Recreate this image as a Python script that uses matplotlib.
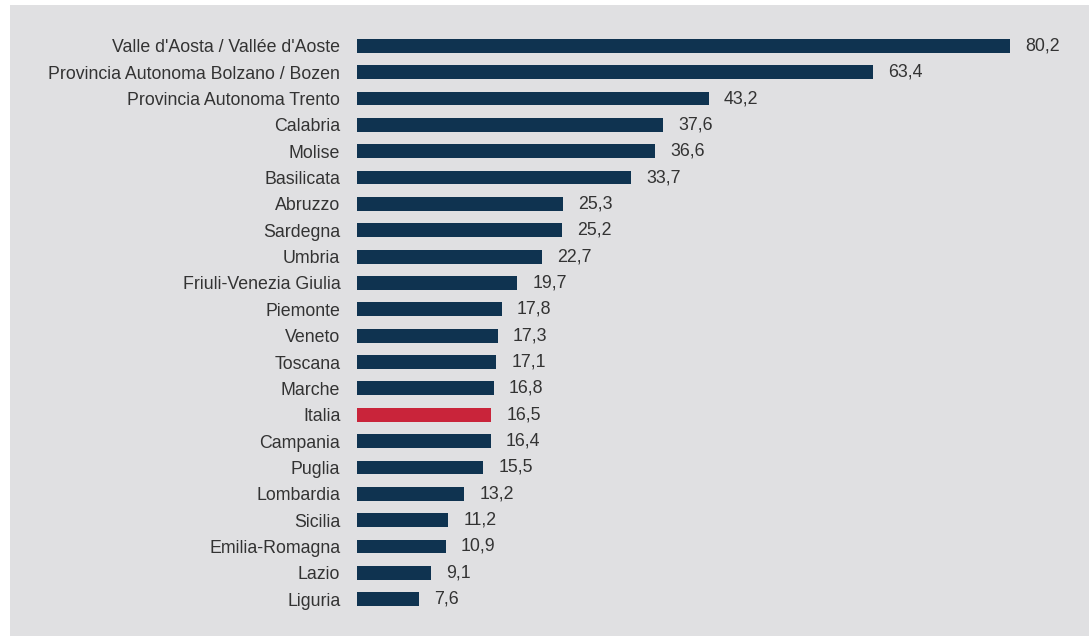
import matplotlib
matplotlib.use("Agg")
import matplotlib.pyplot as plt

regions = ["Valle d'Aosta / Vallée d'Aoste", "Provincia Autonoma Bolzano / Bozen",
           "Provincia Autonoma Trento", "Calabria", "Molise", "Basilicata", "Abruzzo",
           "Sardegna", "Umbria", "Friuli-Venezia Giulia", "Piemonte", "Veneto", "Toscana",
           "Marche", "Italia", "Campania", "Puglia", "Lombardia", "Sicilia",
           "Emilia-Romagna", "Lazio", "Liguria"]
values = [80.2, 63.4, 43.2, 37.6, 36.6, 33.7, 25.3, 25.2, 22.7, 19.7, 17.8, 17.3, 17.1,
          16.8, 16.5, 16.4, 15.5, 13.2, 11.2, 10.9, 9.1, 7.6]
highlight = "Italia"

W, H = 1089, 636
fig = plt.figure(figsize=(W / 100, H / 100), dpi=100)
fig.patch.set_facecolor("white")

# grey panel background
bg = fig.add_axes([10 / W, 0, 1 - 10 / W, 1 - 5 / H], zorder=-1)
bg.set_facecolor("#e0e0e2")
bg.set_xticks([])
bg.set_yticks([])
for s in bg.spines.values():
    s.set_visible(False)

left, right = 357 / W, 1010 / W
top_px, bot_px = 32.8, 612.2
ax = fig.add_axes([left, 1 - bot_px / H, right - left, (bot_px - top_px) / H], zorder=1)
ax.set_facecolor("none")

navy = "#0f3350"
red = "#c9243a"
colors = [red if r == highlight else navy for r in regions]
y = list(range(len(regions)))
ax.barh(y, values, height=0.52, color=colors, edgecolor="none")
ax.set_xlim(0, max(values))
ax.set_ylim(len(regions) - 0.5, -0.5)
ax.set_yticks(y)
ax.set_yticklabels(regions, fontsize=12.8, family="Liberation Sans", color="#333333")
ax.tick_params(axis="y", length=0, pad=12)
ax.set_xticks([])
for s in ax.spines.values():
    s.set_visible(False)

for yi, v in zip(y, values):
    ax.annotate(f"{v:.1f}".replace(".", ","), xy=(v, yi), xytext=(15, 0),
                textcoords="offset pixels", va="center", ha="left",
                fontsize=12.8, family="Liberation Sans", color="#333333")

fig.savefig("out.png", dpi=100)
